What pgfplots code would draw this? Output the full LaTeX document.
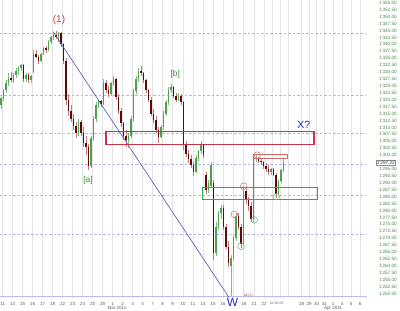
\documentclass[border=0pt]{standalone}
\usepackage{fontspec}
\setmainfont{Liberation Sans}
\usepackage{pgfplots}
\usepackage{pgfplotstable}
\pgfplotsset{compat=1.18}
\definecolor{upc}{HTML}{4E9F4E}
\definecolor{upw}{HTML}{7DBE7D}
\definecolor{dnc}{HTML}{5E0808}
\definecolor{dnw}{HTML}{C47A7A}
\definecolor{fib}{HTML}{B4B4EE}
\definecolor{fibbase}{HTML}{B8BCEE}
\definecolor{lblg}{HTML}{4A8A4A}
\definecolor{diag}{HTML}{5050B4}
\definecolor{boxred}{HTML}{C8324A}
\definecolor{boxgreen}{HTML}{2DB04A}
\definecolor{circred}{HTML}{D06A6A}
\definecolor{circgreen}{HTML}{5AB472}
\definecolor{txtred}{HTML}{C03C3C}
\definecolor{txtgreen}{HTML}{3A8A3A}
\definecolor{txtblue}{HTML}{2828C8}

\pgfplotstableread{
x o h l c
1 1318 1321 1316.5 1320.5
3.5 1320.5 1324 1319.5 1323.5
6 1323.5 1327 1322.5 1326
8.5 1326 1329.5 1325 1328
11 1328 1330 1326.5 1327
13.5 1327 1329.5 1326 1329
16 1329 1331.5 1328 1330.5
18.5 1330.5 1332 1329 1331.5
21 1331.5 1333 1330.5 1332.5
23.5 1332.5 1333 1326.5 1327.5
26 1327.5 1329.5 1326.5 1329
28.5 1329 1329.5 1326 1327
31 1327 1329 1326 1328.5
33.5 1330 1338 1329.5 1336.5
36 1336.5 1338 1335 1335.5
38.5 1335.5 1336 1333 1334
41 1334 1337 1333.5 1336.5
43.5 1336.5 1339 1336 1338.5
46 1338.5 1339.5 1337 1338
48.5 1338 1341.5 1337.5 1341
51 1341 1343 1340 1342.5
53.5 1342.5 1344 1341.5 1343.5
56 1343.5 1344.7 1342 1342.5
58.5 1342.5 1344.5 1341 1344
61 1344 1344.3 1339 1340
63.5 1340 1340.5 1333 1334
66 1334 1335 1318 1320
68.5 1320 1322 1314 1316
71 1316 1318 1312 1313
73.5 1313 1315 1309 1310.5
76 1310.5 1312 1306 1308
78.5 1308 1313 1307 1312
81 1312 1312.5 1307 1308
83.5 1308 1310 1303 1304.5
86 1304.5 1307 1300 1303
88.5 1303 1304 1294.5 1296
91 1296 1307 1295.5 1306
93.5 1306 1314 1305 1313
96 1313 1319 1312 1318
98.5 1318 1320 1317 1319.5
101 1319.5 1320 1317.5 1318.5
103.5 1318.5 1327.5 1318 1326
106 1326 1327 1322.5 1323.5
108.5 1323.5 1325 1321 1322
111 1322 1326.5 1321.5 1326
113.5 1326 1328.5 1325 1327.5
116 1327.5 1328 1320 1321
118.5 1321 1322 1315 1316
121 1316 1317 1310 1311.5
123.5 1311.5 1312 1305.5 1307
126 1307 1309 1303 1305.5
128.5 1305.5 1308 1302.5 1307
131 1307 1314 1306 1313
133.5 1313 1324 1312 1323
136 1323 1328.5 1322 1327.5
138.5 1327.5 1331.5 1326.5 1330.5
141 1330.5 1332 1328.5 1329.5
143.5 1329.5 1330 1326 1327
146 1327 1327.5 1322.5 1323.5
148.5 1323.5 1324 1319 1320
151 1320 1321 1314 1315
153.5 1315 1316.5 1311.5 1312.5
156 1312.5 1314 1308 1309
158.5 1309 1310 1304.5 1306.5
161 1306.5 1311 1306 1310
163.5 1310 1316 1309 1315
166 1315 1320 1314 1319
168.5 1319 1324.5 1318 1323.5
171 1323.5 1325.5 1322.5 1324.5
173.5 1324.5 1325 1320.5 1321.5
176 1321.5 1322.5 1319 1320
178.5 1320 1322.5 1319.5 1321.5
181 1321.5 1322 1318 1319
183.5 1319 1319.5 1302 1304
186 1304 1305 1299.5 1300.5
188.5 1300.5 1302 1297 1298.5
191 1298.5 1300 1295.5 1296.5
193.5 1296.5 1297.5 1292.5 1294
196 1294 1300 1293.5 1299
198.5 1299 1302 1298 1301.5
201 1301.5 1305 1300.5 1303.5
203.5 1303.5 1304 1299 1300
206 1293 1294 1286 1287.5
208.5 1287.5 1291 1286.5 1290
211 1289 1297.5 1288.5 1296.5
213.5 1290 1291 1262 1264.5
216 1264.5 1276 1263.5 1274
218.5 1274 1280 1273 1279
221 1279 1282 1277 1281
223.5 1281 1282 1273 1274
226 1274 1275 1266 1267
228.5 1267 1269 1259.5 1261
231 1260 1264 1249.2 1263
233.5 1263 1271 1262 1270
236 1270 1279 1269 1278
238.5 1278 1279 1273 1274
241 1274 1275 1266.5 1268
243.5 1268 1289 1267.5 1287
246 1287 1288 1282.5 1284
248.5 1284 1285 1280 1281.5
251 1281.5 1283 1276 1277
253.5 1277 1299 1276 1298.5
256 1298.5 1300.3 1297.5 1299
258.5 1299 1299.5 1297 1298
261 1298 1299 1296.5 1297.5
263.5 1297.5 1298 1295 1296
266 1296 1297 1294 1295
268.5 1295 1296.5 1293 1294
271 1294 1295.5 1293 1295
273.5 1295 1295.5 1292.5 1293
276 1293 1293.5 1284.5 1286
278.5 1286 1291 1285.5 1290.5
281 1290.5 1295 1290 1294.5
283.5 1294.5 1299 1294 1297.22
}\candles

\begin{document}
\begin{tikzpicture}
\begin{axis}[
  name=ax,
  scale only axis,
  width=367bp, height=297.5bp,
  xmin=0, xmax=367, ymin=1248.6, ymax=1356,
  clip=false,
  axis line style={draw=none},
  major tick length=0pt,
  xmajorgrids,
  grid style={color=black!11, line width=0.45bp},
  xtick={2.7,12.7,22.7,32.7,42.7,52.7,62.7,72.7,82.7,92.7,102.7,112.7,122.7,132.7,142.7,152.7,162.7,172.7,183,193,203,213,223,233,243.5,254,264,272,280,288,301.7,309,316.7,324.3,333,342,351,360},
  xticklabels={11,14,15,16,17,18,22,23,24,25,28,1,2,3,4,7,8,9,10,11,14,15,16,{},18,21,22,{},{},{},28,29,30,31,1,4,5,6},
  xticklabel style={font=\fontsize{4.5}{5}\selectfont, text=black!65, anchor=base, yshift=-7.8bp},
  ytick={1250,1252.5,1255,1257.5,1260,1262.5,1265,1267.5,1270,1272.5,1275,1277.5,1280,1282.5,1285,1287.5,1290,1292.5,1295,1300,1302.5,1305,1307.5,1310,1312.5,1315,1317.5,1320,1322.5,1325,1327.5,1330,1332.5,1335,1337.5,1340,1342.5,1345,1347.5,1350,1352.5,1355},
  yticklabel pos=right,
  yticklabel style={font=\fontsize{4.7}{5}\selectfont, text=lblg, anchor=west, xshift=8.5bp,
    /pgf/number format/.cd, fixed, fixed zerofill, precision=2, 1000 sep={\textquotesingle}},
  /pgf/number format/assume math mode=true,
]
% Fibonacci levels
\addplot[fibbase, line width=0.8bp] coordinates {(0,1249.05) (367,1249.05)};
\addplot[fib, line width=0.45bp, dash pattern=on 2.5bp off 2bp] coordinates {(0,1344.07) (366,1344.07)};
\addplot[fib, line width=0.45bp, dash pattern=on 2.5bp off 2bp] coordinates {(0,1321.64) (366,1321.64)};
\addplot[fib, line width=0.45bp, dash pattern=on 2.5bp off 2bp] coordinates {(0,1307.77) (366,1307.77)};
\addplot[fib, line width=0.45bp, dash pattern=on 2.5bp off 2bp] coordinates {(0,1296.56) (366,1296.56)};
\addplot[fib, line width=0.45bp, dash pattern=on 2.5bp off 2bp] coordinates {(0,1285.35) (366,1285.35)};
\addplot[fib, line width=0.45bp, dash pattern=on 2.5bp off 2bp] coordinates {(0,1271.47) (366,1271.47)};

% candles: wicks
\addplot[upw, line width=0.5bp, quiver={u=0, v=\thisrow{h}-\thisrow{l}}]
  table[x=x, y expr={\thisrow{c}>=\thisrow{o} ? \thisrow{l} : nan}] {\candles};
\addplot[dnw, line width=0.5bp, quiver={u=0, v=\thisrow{h}-\thisrow{l}}]
  table[x=x, y expr={\thisrow{c}<\thisrow{o} ? \thisrow{l} : nan}] {\candles};
% candles: bodies
\addplot[upc, line width=1.5bp, quiver={u=0, v=\thisrow{c}-\thisrow{o}}]
  table[x=x, y expr={\thisrow{c}>=\thisrow{o} ? \thisrow{o} : nan}] {\candles};
\addplot[dnc, line width=1.5bp, quiver={u=0, v=\thisrow{c}-\thisrow{o}}]
  table[x=x, y expr={\thisrow{c}<\thisrow{o} ? \thisrow{o} : nan}] {\candles};

% trend line
\addplot[diag, line width=0.6bp] coordinates {(53.3,1344.5) (229,1248.6)};

% boxes
\draw[boxred, line width=1.1bp] (axis cs:106,1308.5) rectangle (axis cs:314,1303.7);
\draw[boxgreen, line width=1.1bp] (axis cs:202.7,1288.4) rectangle (axis cs:317.7,1284.1);
\draw[circred, line width=0.5bp] (axis cs:253,1300.4) rectangle (axis cs:287.5,1298.8);

% circles
\draw[circred, line width=0.5bp] (axis cs:257.3,1300.0) circle[radius=3.3bp];
\draw[circred, line width=0.5bp] (axis cs:243.7,1288.8) circle[radius=3.3bp];
\draw[circred, line width=0.5bp] (axis cs:234.3,1278.6) circle[radius=3.3bp];
\draw[circgreen, line width=0.5bp] (axis cs:254.3,1276.6) circle[radius=3.3bp];
\draw[circgreen, line width=0.5bp] (axis cs:241,1267.1) circle[radius=3.3bp];
\draw[circgreen, line width=0.5bp] (axis cs:276.3,1285.0) circle[radius=3.3bp];

% annotations
\node[text=txtred, font=\fontsize{10}{12}\selectfont] at (axis cs:59,1348.9) {(1)};
\node[text=txtgreen, font=\fontsize{8.5}{10}\selectfont] at (axis cs:88,1291.0) {[a]};
\node[text=txtgreen, font=\fontsize{8.5}{10}\selectfont] at (axis cs:175.3,1329.0) {[b]};
\node[text=txtblue, font=\fontsize{10.5}{12}\selectfont] at (axis cs:303.7,1311.1) {X?};
\node[text=txtblue, font=\fontsize{12}{14}\selectfont, inner sep=0pt] at (axis cs:232.5,1246.9) {W};
\node[text=txtred, font=\fontsize{3.5}{4}\selectfont, inner sep=0pt] at (axis cs:248.3,1249.3) {alt (2)};
\node[text=black!55, fill=white, font=\fontsize{3.5}{4}\selectfont, inner sep=0.6pt] at (axis cs:276.7,1246.6) {04:00:00};
\node[text=black!65, font=\fontsize{4.5}{5}\selectfont, anchor=base, inner sep=0pt] at (axis cs:117,1248.6) [yshift=-11.8bp] {Mar 2011};
\node[text=black!65, font=\fontsize{4.5}{5}\selectfont, anchor=base, inner sep=0pt] at (axis cs:333,1248.6) [yshift=-11.8bp] {Apr 2011};
\node[draw=black!45, fill=white, text=black!80, font=\fontsize{4.7}{5}\selectfont, inner sep=0.5pt, anchor=west, line width=0.4bp] at (axis cs:367,1297.22) [xshift=9.2bp] {1\textquotesingle 297.22};
\end{axis}
\pgfresetboundingbox
\path[use as bounding box] ([yshift=-13.5bp]ax.south west) rectangle ([xshift=33bp]ax.north east);
\end{tikzpicture}
\end{document}
